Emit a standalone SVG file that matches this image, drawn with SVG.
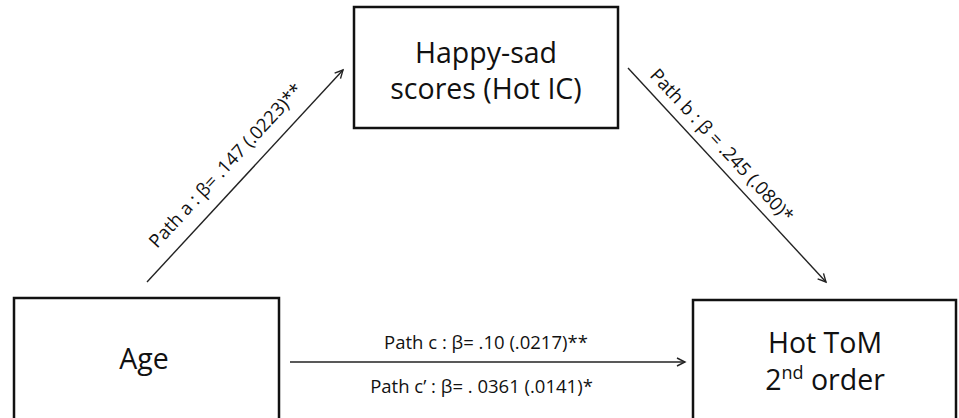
<svg xmlns="http://www.w3.org/2000/svg" width="959" height="418" viewBox="0 0 959 418">
<defs>
<style>
.box{fill:#fff;stroke:#111;stroke-width:2.5}
.lbl{font-family:"Open Sans","DejaVu Sans",sans-serif;font-size:28.5px;fill:#111;text-anchor:middle}
.path{font-family:"Open Sans","DejaVu Sans",sans-serif;font-size:18.5px;fill:#111;text-anchor:middle}
.conn{stroke:#222;stroke-width:1.4;fill:none}
</style>
<marker id="arr" markerWidth="12" markerHeight="12" refX="9" refY="5" orient="auto" markerUnits="userSpaceOnUse">
<path d="M1,1 L9,5 L1,9" fill="none" stroke="#222" stroke-width="1.4"/>
</marker>
</defs>
<rect width="959" height="418" fill="#fff"/>
<g id="connectors">
<line class="conn" x1="147" y1="282" x2="343" y2="70" marker-end="url(#arr)"/>
<line class="conn" x1="628" y1="68" x2="826" y2="282" marker-end="url(#arr)"/>
<line class="conn" x1="290" y1="362" x2="685" y2="362" marker-end="url(#arr)"/>
<text class="path" transform="translate(230.4,169.8) rotate(-47.2)">Path a : β= .147 (.0223)**</text>
<text class="path" transform="translate(717.2,149.7) rotate(47.2)">Path b : β = .245 (.080)*</text>
<text class="path" x="486" y="349">Path c : β= .10 (.0217)**</text>
<text class="path" x="481.5" y="393">Path c’ : β= . 0361 (.0141)*</text>
</g>
<g id="node-happy">
<rect class="box" x="354" y="7" width="264" height="121"/>
<text class="lbl" x="486" y="63">Happy-sad</text>
<text class="lbl" x="486" y="99">scores (Hot IC)</text>
</g>
<g id="node-age">
<rect class="box" x="14" y="298" width="265" height="140"/>
<text class="lbl" x="144" y="369">Age</text>
</g>
<g id="node-hottom">
<rect class="box" x="693" y="300" width="263" height="140"/>
<text class="lbl" x="825" y="353">Hot ToM</text>
<text class="lbl" x="825" y="390">2<tspan font-size="18" dy="-11">nd</tspan><tspan dy="11"> order</tspan></text>
</g>
</svg>
